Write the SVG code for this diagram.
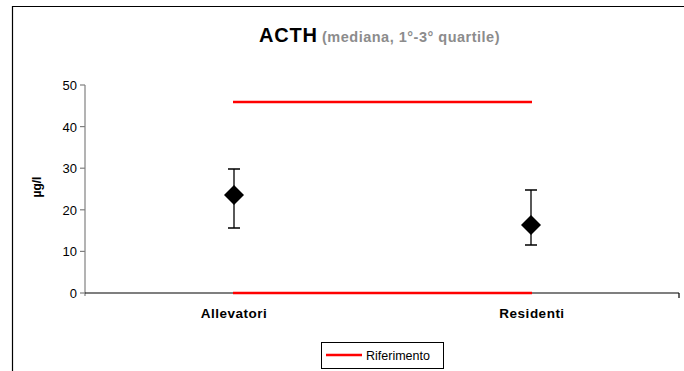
<svg xmlns="http://www.w3.org/2000/svg" width="684" height="371" viewBox="0 0 684 371">
<style>
.t{font-family:"Liberation Sans",Arial,sans-serif}
.tick{font-size:13px;fill:#000;text-anchor:end}
.cat{font-size:13.5px;font-weight:bold;text-anchor:middle;letter-spacing:0.5px}
.err{stroke:#000;stroke-width:1.3;fill:none}
.ref{stroke:#ff0000;stroke-width:2.5}
</style>
<rect x="0" y="0" width="684" height="371" fill="#fff"/>
<path d="M12.5 371 V6.5 H684" fill="none" stroke="#000" stroke-width="1.2"/>
<g id="title">
<text class="t" x="259" y="42"><tspan font-size="20" font-weight="bold" fill="#000" letter-spacing="0.8">ACTH</tspan><tspan x="322" font-size="14.5" font-weight="bold" fill="#8c8c8c" letter-spacing="0.5">(mediana, 1°-3° quartile)</tspan></text>
</g>
<g id="axes">
<line x1="85" y1="85" x2="85" y2="296" stroke="#808080" stroke-width="1.2"/>
<line x1="85" y1="293" x2="679" y2="293" stroke="#000" stroke-width="1.2"/>
<line x1="679" y1="293" x2="679" y2="298" stroke="#000" stroke-width="1.2"/>
<g stroke="#808080" stroke-width="1.2">
<line x1="80" y1="85" x2="85" y2="85"/>
<line x1="80" y1="126.6" x2="85" y2="126.6"/>
<line x1="80" y1="168.2" x2="85" y2="168.2"/>
<line x1="80" y1="209.8" x2="85" y2="209.8"/>
<line x1="80" y1="251.4" x2="85" y2="251.4"/>
<line x1="80" y1="293" x2="85" y2="293"/>
</g>
<g class="t tick">
<text x="77" y="90">50</text>
<text x="77" y="131.6">40</text>
<text x="77" y="173.2">30</text>
<text x="77" y="214.8">20</text>
<text x="77" y="256.4">10</text>
<text x="77" y="298">0</text>
</g>
<text class="t" x="0" y="0" font-size="12" font-weight="bold" text-anchor="middle" transform="translate(41 187) rotate(-90)">µg/l</text>
<text class="t cat" x="234" y="318">Allevatori</text>
<text class="t cat" x="532" y="318">Residenti</text>
</g>
<g id="connectors">
<line class="ref" x1="233" y1="102" x2="532" y2="102"/>
<line class="ref" x1="233" y1="293" x2="532" y2="293"/>
</g>
<g id="allevatori">
<path class="err" d="M234 169 V228 M228 169 H240 M228 228 H240"/>
<polygon points="234,185 244,195 234,205 224,195" fill="#000"/>
</g>
<g id="residenti">
<path class="err" d="M531 190 V245 M525 190 H537 M525 245 H537"/>
<polygon points="531,215 541,225 531,235 521,225" fill="#000"/>
</g>
<g id="legend">
<rect x="321.5" y="342.5" width="122" height="26" fill="#fff" stroke="#000" stroke-width="1"/>
<line class="ref" x1="326" y1="355" x2="362" y2="355"/>
<text class="t" x="366" y="360" font-size="12.5">Riferimento</text>
</g>
</svg>
